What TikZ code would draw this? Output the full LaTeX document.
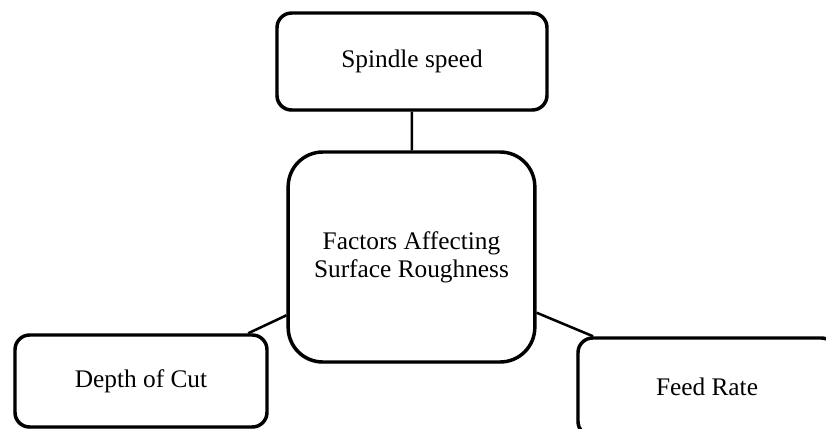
\documentclass[tikz,border=0pt]{standalone}
\usepackage{fontspec}
\setmainfont{Liberation Serif}
\usetikzlibrary{positioning, shadows}

\begin{document}
\begin{tikzpicture}[x=0.75pt, y=-0.75pt,
    factor/.style={draw, line width=2.6pt, rounded corners=11pt, fill=white,
        align=center, font=\fontsize{19}{21}\selectfont,
        drop shadow={shadow xshift=-1.2pt, shadow yshift=-1.2pt, fill=gray!70, opacity=0.6}},
    hub/.style={factor, rounded corners=26pt},
    link/.style={line width=1.9pt}]
    \useasboundingbox (0,0) rectangle (826,429);
    \clip (0,0) rectangle (826,429);

    \node[hub, minimum width=185pt, minimum height=157.5pt] (rough) at (411.5,257) {Factors Affecting\\Surface Roughness};
    \node[factor, minimum width=202.5pt, minimum height=72.75pt] (spindle) at (412,61.5) {Spindle speed};
    \node[factor, minimum width=189pt, minimum height=69pt] (depth) at (141,381) {Depth of Cut};
    \node[factor, minimum width=193.5pt, minimum height=73.5pt] (feed) at (707,387) {Feed Rate};

    \path[link]
    (spindle) edge (rough)
    (rough.205) edge (depth.24)
        (rough.336) edge (feed.156);
\end{tikzpicture}
\end{document}
